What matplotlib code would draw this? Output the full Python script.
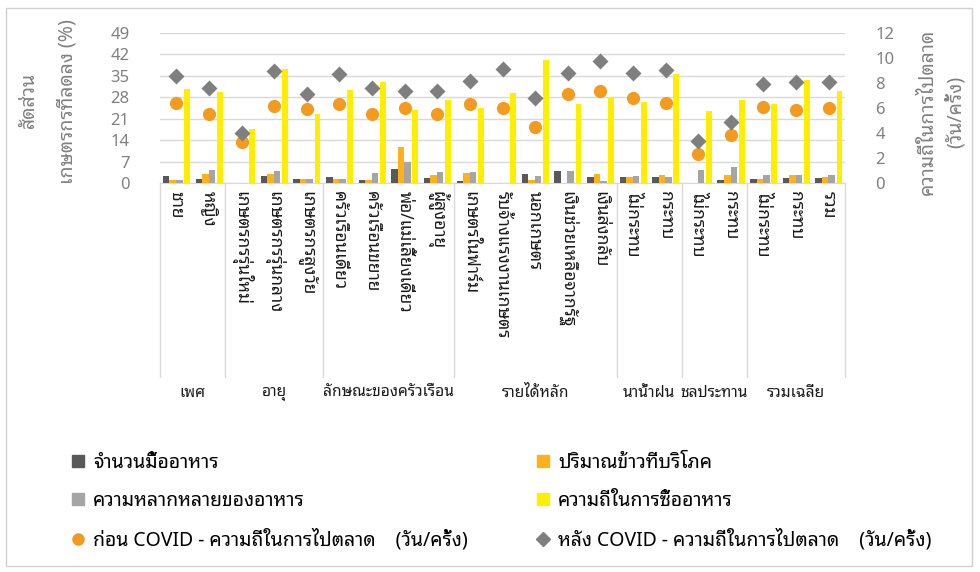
import matplotlib
matplotlib.use("Agg")
import matplotlib.pyplot as plt
import matplotlib.transforms as mtransforms
from matplotlib.lines import Line2D
from matplotlib.patches import Rectangle
import numpy as np

plt.rcParams["font.family"] = ["Noto Sans Thai Looped", "Noto Sans"]

categories = [
    "ชาย", "หญิง",
    "เกษตรกรรุ่นใหม่", "เกษตรกรรุ่นกลาง", "เกษตรกรสูงวัย",
    "ครัวเรือนเดี่ยว", "ครัวเรือนขยาย", "พ่อ/แม่เลี้ยงเดี่ยว", "ผู้สูงอายุ",
    "เกษตรในฟาร์ม", "รับจ้างแรงงานเกษตร", "นอกเกษตร", "เงินช่วยเหลือจากรัฐ", "เงินส่งกลับ",
    "ไม่กระทบ", "กระทบ",
    "ไม่กระทบ", "กระทบ",
    "ไม่กระทบ", "กระทบ", "รวม",
]
group_names = ["เพศ", "อายุ", "ลักษณะของครัวเรือน", "รายได้หลัก", "นาน้ำฝน", "ชลประทาน", "รวมเฉลี่ย"]
group_sizes = [2, 3, 4, 5, 2, 2, 3]

# left axis (%)
meals = [2.3, 1.3, 0, 2.3, 1.2, 2.1, 0.9, 4.7, 1.6, 0.5, 0, 2.9, 3.9, 2.0, 2.0, 2.0, 0, 0.9, 1.4, 1.7, 1.7]
rice = [0.9, 3.0, 0, 2.9, 1.2, 1.2, 0.9, 11.9, 2.6, 3.2, 0, 0.9, 0, 2.9, 2.0, 2.5, 0, 2.5, 1.4, 2.5, 2.0]
variety = [1.1, 4.1, 0, 3.9, 1.4, 1.2, 3.4, 6.9, 3.5, 3.7, 0, 2.3, 3.8, 0.8, 2.4, 2.0, 4.1, 5.2, 2.7, 2.7, 2.7]
buy_freq = [30.7, 29.7, 17.5, 37.2, 22.6, 30.5, 32.9, 23.7, 27.2, 24.4, 29.3, 40.3, 25.8, 27.9,
            26.4, 35.7, 23.4, 27.2, 25.7, 33.8, 30.1]
# right axis (days/time)
before_covid = [6.43, 5.49, 3.28, 6.16, 5.89, 6.32, 5.52, 6.03, 5.52, 6.32, 6.0, 4.48, 7.12, 7.33,
                6.83, 6.4, 2.29, 3.84, 6.11, 5.81, 5.97]
after_covid = [8.59, 7.57, 4.03, 8.99, 7.12, 8.69, 7.63, 7.39, 7.39, 8.19, 9.12, 6.77, 8.83, 9.76,
               8.8, 9.07, 3.33, 4.88, 7.95, 8.08, 8.08]

bar_labels = ["จำนวนมื้ออาหาร", "ปริมาณข้าวที่บริโภค", "ความหลากหลายของอาหาร", "ความถี่ในการซื้ออาหาร"]
before_label = "ก่อน COVID - ความถี่ในการไปตลาด    (วัน/ครั้ง)"
after_label = "หลัง COVID - ความถี่ในการไปตลาด    (วัน/ครั้ง)"

c_dark = "#595959"
c_orange = "#FFB11B"
c_gray = "#A5A5A5"
c_yellow = "#FFEE00"
c_circle = "#F39B1E"
c_diamond = "#7F7F7F"
c_axis = "#808080"

fig = plt.figure(figsize=(9.8, 5.72), dpi=100)
ax = fig.add_axes([160 / 980, 1 - 183 / 572, 685 / 980, 150 / 572])
ax2 = ax.twinx()

x = np.arange(len(categories))
w = 0.2
ax.bar(x - 0.31, meals, w, color=c_dark, zorder=3)
ax.bar(x - 0.11, rice, w, color=c_orange, zorder=3)
ax.bar(x + 0.09, variety, w, color=c_gray, zorder=3)
ax.bar(x + 0.33, buy_freq, w * 0.9, color=c_yellow, zorder=3)

ax2.plot(x, before_covid, "o", color=c_circle, ms=9.5, mec="none", zorder=4)
ax2.plot(x, after_covid, "D", color=c_diamond, ms=8, mec="none", zorder=5)

ax.set_xlim(-0.5, len(categories) - 0.5)
ax.set_ylim(0, 49)
ax.set_yticks(np.arange(0, 50, 7))
ax2.set_ylim(0, 12)
ax2.set_yticks(np.arange(0, 13, 2))
ax.set_xticks([])
ax.grid(axis="y", color="#D9D9D9", lw=1, zorder=0)
for a in (ax, ax2):
    for s in a.spines.values():
        s.set_visible(False)
ax.spines["bottom"].set_visible(True)
ax.spines["bottom"].set_color("#D9D9D9")
ax.tick_params(axis="y", length=0, pad=22, labelsize=12, labelcolor=c_axis)
ax2.tick_params(axis="y", length=0, pad=22, labelsize=12, labelcolor=c_axis)

# category labels and group separators
trans = mtransforms.blended_transform_factory(ax.transData, ax.transAxes)
for i, cat in enumerate(categories):
    ax.text(i, -0.05, cat, rotation=270, ha="center", va="top", fontsize=12.5,
            color="#1a1a1a", transform=trans)
edges = np.concatenate([[0], np.cumsum(group_sizes)]) - 0.5
for e in edges:
    ax.plot([e, e], [0, -1.295], color="#D9D9D9", lw=1, transform=trans, clip_on=False)
for name, lo, hi in zip(group_names, edges[:-1], edges[1:]):
    ax.text((lo + hi) / 2, -1.40, name, ha="center", va="center", fontsize=11.2,
            color="#1a1a1a", transform=trans)

# axis titles
title_kw = dict(rotation=90, ha="center", va="center", fontsize=14, color=c_axis)
fig.text(29 / 980, 1 - 100 / 572, "สัดส่วน", **title_kw)
fig.text(67 / 980, 1 - 102 / 572, "เกษตรกรที่ลดลง (%)", **title_kw)
fig.text(928 / 980, 1 - 112 / 572, "ความถี่ในการไปตลาด", **title_kw)
fig.text(955 / 980, 1 - 112 / 572, "(วัน/ครั้ง)", **title_kw)

# legends
left_handles = [
    Line2D([], [], ls="none", marker="s", ms=9, color=c_dark),
    Line2D([], [], ls="none", marker="s", ms=9, color=c_gray),
    Line2D([], [], ls="none", marker="o", ms=8, color=c_circle),
]
right_handles = [
    Line2D([], [], ls="none", marker="s", ms=9, color=c_orange),
    Line2D([], [], ls="none", marker="s", ms=9, color=c_yellow),
    Line2D([], [], ls="none", marker="D", ms=7, color=c_diamond),
]
leg_kw = dict(frameon=False, fontsize=14, handlelength=0.8, handletextpad=0.4,
              labelspacing=0.93, borderpad=0, borderaxespad=0, loc="upper left")
leg1 = fig.legend(left_handles, [bar_labels[0], bar_labels[2], before_label],
                  bbox_to_anchor=(70 / 980, 1 - 453 / 572), **leg_kw)
leg2 = fig.legend(right_handles, [bar_labels[1], bar_labels[3], after_label],
                  bbox_to_anchor=(535 / 980, 1 - 453 / 572), **leg_kw)

fig.patches.append(Rectangle((6 / 980, 6 / 572), 966 / 980, 558 / 572, transform=fig.transFigure,
                             fill=False, edgecolor="#D0D0D0", lw=1))

fig.savefig("out.png", dpi=100)
